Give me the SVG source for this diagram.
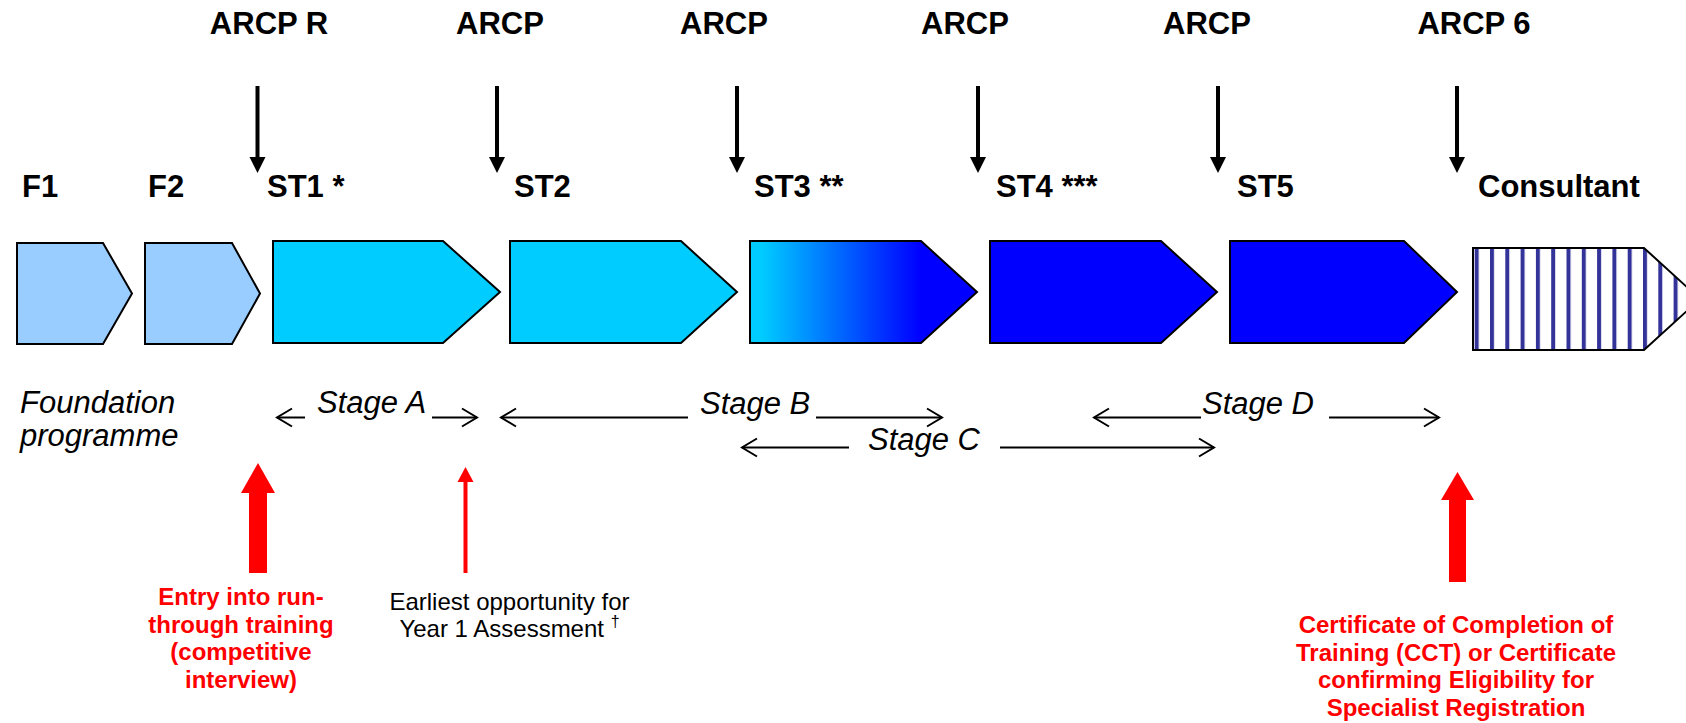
<svg xmlns="http://www.w3.org/2000/svg" width="1686" height="723" viewBox="0 0 1686 723">
<style>
.lbl{font-family:"Liberation Sans",Arial,sans-serif;font-weight:bold;font-size:31px;fill:#000}
.stg{font-family:"Liberation Sans",Arial,sans-serif;font-style:italic;font-size:31px;fill:#000}
.red{font-family:"Liberation Sans",Arial,sans-serif;font-weight:bold;font-size:24px;fill:#FF0000}
.note{font-family:"Liberation Sans",Arial,sans-serif;font-size:24px;fill:#000}
.shape{stroke:#000;stroke-width:2;stroke-linejoin:miter}
.dn{stroke:#000;stroke-width:4;fill:none}
.dnh{fill:#000}
.oa{stroke:#000;stroke-width:2;fill:none}
.ra{fill:#FF0000}
</style>
<defs>
<linearGradient id="g3" x1="0" y1="0" x2="1" y2="0">
<stop offset="0.05" stop-color="#00CCFF"/>
<stop offset="0.75" stop-color="#0000FF"/>
</linearGradient>
<pattern id="stripes" patternUnits="userSpaceOnUse" x="1474.7" y="0" width="15.3" height="20">
<rect x="0" y="0" width="15.3" height="20" fill="#FFFFFF"/>
<rect x="0" y="0" width="4" height="20" fill="#333399"/>
</pattern>
<marker id="open" markerUnits="userSpaceOnUse" markerWidth="20" markerHeight="22" refX="16" refY="10" orient="auto" overflow="visible">
<path d="M1,1 L16,10 L1,19" fill="none" stroke="#000" stroke-width="2"/>
</marker>
</defs>

<g id="top-labels">
<text class="lbl" x="269" y="34" text-anchor="middle">ARCP R</text>
<text class="lbl" x="500" y="34" text-anchor="middle">ARCP</text>
<text class="lbl" x="724" y="34" text-anchor="middle">ARCP</text>
<text class="lbl" x="965" y="34" text-anchor="middle">ARCP</text>
<text class="lbl" x="1207" y="34" text-anchor="middle">ARCP</text>
<text class="lbl" x="1474" y="34" text-anchor="middle">ARCP 6</text>
</g>

<g id="node-F1">
<polygon class="shape" fill="#99CCFF" points="17,243 103,243 132,293.5 103,344 17,344"/>
<text class="lbl" x="22" y="197">F1</text>
</g>
<g id="node-F2">
<polygon class="shape" fill="#99CCFF" points="145,243 232,243 260,293.5 232,344 145,344"/>
<text class="lbl" x="148" y="197">F2</text>
</g>
<g id="node-ST1">
<polygon class="shape" fill="#00CCFF" points="273,241 443,241 500,292 443,343 273,343"/>
<text class="lbl" x="267" y="197">ST1 *</text>
</g>
<g id="node-ST2">
<polygon class="shape" fill="#00CCFF" points="510,241 681,241 737,292 681,343 510,343"/>
<text class="lbl" x="514" y="197">ST2</text>
</g>
<g id="node-ST3">
<polygon class="shape" fill="url(#g3)" points="750,241 921,241 977,292 921,343 750,343"/>
<text class="lbl" x="754" y="197">ST3 **</text>
</g>
<g id="node-ST4">
<polygon class="shape" fill="#0000FF" points="990,241 1161,241 1217,292 1161,343 990,343"/>
<text class="lbl" x="996" y="197">ST4 ***</text>
</g>
<g id="node-ST5">
<polygon class="shape" fill="#0000FF" points="1230,241 1404,241 1457,292 1404,343 1230,343"/>
<text class="lbl" x="1237" y="197">ST5</text>
</g>
<g id="node-Consultant">
<polygon class="shape" fill="url(#stripes)" points="1473,248 1644,248 1700,299 1644,350 1473,350"/>
<text class="lbl" x="1478" y="197">Consultant</text>
</g>

<g id="stage-labels">
<text class="stg" x="20" y="413">Foundation</text>
<text class="stg" x="20" y="446">programme</text>
<text class="stg" x="317" y="413">Stage A</text>
<text class="stg" x="700" y="414">Stage B</text>
<text class="stg" x="868" y="450">Stage C</text>
<text class="stg" x="1202" y="414">Stage D</text>
</g>

<g id="connectors">
<path class="dn" d="M257.5,86 V160"/><polygon class="dnh" points="249.5,157 265.5,157 257.5,173"/>
<path class="dn" d="M497,86 V160"/><polygon class="dnh" points="489,157 505,157 497,173"/>
<path class="dn" d="M737,86 V160"/><polygon class="dnh" points="729,157 745,157 737,173"/>
<path class="dn" d="M978,86 V160"/><polygon class="dnh" points="970,157 986,157 978,173"/>
<path class="dn" d="M1218,86 V160"/><polygon class="dnh" points="1210,157 1226,157 1218,173"/>
<path class="dn" d="M1457,86 V160"/><polygon class="dnh" points="1449,157 1465,157 1457,173"/>

<line class="oa" x1="305" y1="417.5" x2="277" y2="417.5" marker-end="url(#open)"/>
<line class="oa" x1="432" y1="417.5" x2="477" y2="417.5" marker-end="url(#open)"/>
<line class="oa" x1="688" y1="417.5" x2="501" y2="417.5" marker-end="url(#open)"/>
<line class="oa" x1="816" y1="417.5" x2="942" y2="417.5" marker-end="url(#open)"/>
<line class="oa" x1="849" y1="447.5" x2="742" y2="447.5" marker-end="url(#open)"/>
<line class="oa" x1="1000" y1="447.5" x2="1214" y2="447.5" marker-end="url(#open)"/>
<line class="oa" x1="1201" y1="417.5" x2="1094" y2="417.5" marker-end="url(#open)"/>
<line class="oa" x1="1329" y1="417.5" x2="1439" y2="417.5" marker-end="url(#open)"/>

<polygon class="ra" points="258,463 275,493 267,493 267,573 249,573 249,493 241,493"/>
<polygon class="ra" points="465.5,467 473.5,482 467.5,482 467.5,573 463.5,573 463.5,482 457.5,482"/>
<polygon class="ra" points="1457.5,472 1474,500 1466,500 1466,582 1449,582 1449,500 1441,500"/>
</g>

<g id="note-entry">
<text class="red" text-anchor="middle" x="241"><tspan x="241" y="605">Entry into run-</tspan><tspan x="241" y="632.5">through training</tspan><tspan x="241" y="660">(competitive</tspan><tspan x="241" y="687.5">interview)</tspan></text>
</g>
<g id="note-year1">
<text class="note" text-anchor="middle"><tspan x="509.5" y="610">Earliest opportunity for</tspan><tspan x="509.5" y="637">Year 1 Assessment <tspan font-size="16" dy="-10">†</tspan></tspan></text>
</g>
<g id="note-cct">
<text class="red" text-anchor="middle"><tspan x="1456" y="632.5">Certificate of Completion of</tspan><tspan x="1456" y="660.5">Training (CCT) or Certificate</tspan><tspan x="1456" y="688">confirming Eligibility for</tspan><tspan x="1456" y="716">Specialist Registration</tspan></text>
</g>
</svg>
